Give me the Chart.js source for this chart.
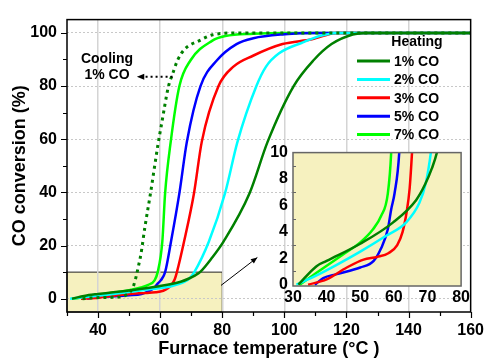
<!DOCTYPE html>
<html>
<head>
<meta charset="utf-8">
<script src="https://cdn.jsdelivr.net/npm/chart.js@4.4.1/dist/chart.umd.min.js"></script>
<style>
body { margin: 0; background: #fff; }
#wrap { position: relative; width: 493px; height: 358px; }
#main { position: absolute; left: 0; top: 0; }
#inset { position: absolute; left: 262px; top: 138px; }
</style>
</head>
<body>
<div id="wrap">
  <canvas id="main" width="493" height="358"></canvas>
  <canvas id="inset" width="210" height="170"></canvas>
</div>
<script>
// [temperature (°C), CO conversion (%)]
const cooling1 = [[35,0],[38,0.3],[44,0.5],[47.3,0.7],[50.4,2.7],[51.5,5.1],[52.3,8.5],[53,12.2],[53.8,16.7],[55.1,27],[56.9,39.7],[59.3,58],[60.5,66],[62.7,80],[64,84.5],[65.6,89.7],[68,94],[72.5,97],[77,99.3],[85,100],[160,100]];
const heat1 = [[31.6,0],[37,1.4],[40,1.8],[50,3.1],[59.7,4.7],[66.6,6.4],[69.3,7.6],[71.3,8.8],[73,10.2],[76.7,15.4],[80.4,21.5],[88.8,39.7],[94.6,59],[103,80],[109.4,89.7],[115.2,95.8],[122,99.4],[126,100],[160,100]];
const heat2 = [[31,0],[37,0.7],[43,1.5],[50,2.5],[57.7,3.7],[63.6,4.7],[67.6,6.2],[69.5,7.7],[71,10],[75.7,21.5],[80.9,39.7],[84.9,59],[91,80],[94.1,87.3],[98.3,92.3],[105.7,96.3],[112,99],[117,100],[160,100]];
const heat3 = [[34.5,0],[40,0.4],[46,1.3],[51,1.9],[55,2.1],[58.5,2.4],[61,3],[62.6,4],[63.8,5.5],[64.7,7.3],[65.4,10],[67.7,21.5],[70.9,39.7],[73.4,59],[78.8,80],[83.6,87.3],[89.9,91.4],[99.4,95.8],[108.9,97.6],[117,100],[160,100]];
const heat5 = [[36.5,0],[39,0.5],[43,0.8],[50,1.3],[54,1.8],[56.2,2.75],[58.2,4.2],[59.2,5.7],[60.2,6.9],[61.6,10],[63.5,21.5],[66.2,39.7],[68.6,59],[73,80],[78.3,89.7],[84.6,95.8],[90,98],[100,99.5],[110,100],[160,100]];
const heat7 = [[32,0],[37,0.9],[45,2.3],[50,3.2],[53.8,4.2],[56.2,5.2],[58.2,6.9],[59.2,10],[60.7,21.5],[61.6,39.7],[63.4,59],[66.2,80],[69.8,89.7],[76.7,97],[81,98.8],[90,99.7],[100,100],[160,100]];

const heatLabels = ['1% CO', '2% CO', '3% CO', '5% CO', '7% CO'];
const heatColors = ['#008000', '#00ffff', '#ff0000', '#0000ff', '#00ff00'];
const heatSeries = [heat1, heat2, heat3, heat5, heat7];
const mainXTicks = [30, 40, 50, 60, 70, 80, 90, 100, 110, 120, 130, 140, 150, 160];
const mainYTicks = [0, 10, 20, 30, 40, 50, 60, 70, 80, 90, 100];
const insetXTicks = [30, 40, 50, 60, 70, 80];
const insetYTicks = [0, 2, 4, 6, 8, 10];

const YELLOW = '#f6f1bf';
const bold = size => ({ family: 'Arial, "Liberation Sans", sans-serif', size: size, weight: 'bold' });
const toXY = arr => arr.map(p => ({ x: p[0], y: p[1] }));

function heatDatasets(width) {
    return heatSeries.map((s, i) => ({
        label: heatLabels[i],
        data: toXY(s),
        borderColor: heatColors[i],
        backgroundColor: heatColors[i],
        borderWidth: width,
        pointRadius: 0,
        cubicInterpolationMode: 'monotone'
    }));
}

function arrowHead(ctx, x1, y1, x2, y2, size) {
    const ang = Math.atan2(y2 - y1, x2 - x1);
    ctx.beginPath();
    ctx.moveTo(x2, y2);
    ctx.lineTo(x2 - size * Math.cos(ang - 0.4), y2 - size * Math.sin(ang - 0.4));
    ctx.lineTo(x2 - size * Math.cos(ang + 0.4), y2 - size * Math.sin(ang + 0.4));
    ctx.closePath();
    ctx.fill();
}

// yellow zoom box under the grid
const zoomBox = {
    id: 'zoomBox',
    beforeDraw(chart) {
        const { ctx, scales: { x, y } } = chart;
        const l = x.getPixelForValue(30), r = x.getPixelForValue(80);
        const t = y.getPixelForValue(10), b = y.getPixelForValue(-5);
        ctx.save();
        ctx.fillStyle = YELLOW;
        ctx.fillRect(l, t, r - l, b - t);
        ctx.strokeStyle = '#222';
        ctx.lineWidth = 1;
        ctx.strokeRect(l, t, r - l, b - t);
        ctx.restore();
    }
};

// frame, tick marks, legend, annotations
const mainDecor = {
    id: 'mainDecor',
    afterDraw(chart) {
        const { ctx, chartArea: a, scales: { x, y } } = chart;
        ctx.save();
        ctx.strokeStyle = '#000';
        ctx.lineWidth = 1.5;
        ctx.strokeRect(a.left, a.top, a.right - a.left, a.bottom - a.top);
        ctx.lineWidth = 1.2;
        ctx.beginPath();
        mainXTicks.forEach(v => {
            const px = Math.round(x.getPixelForValue(v)) + 0.5;
            ctx.moveTo(px, a.bottom);
            ctx.lineTo(px, a.bottom + (v % 20 === 0 ? 6 : 4));
        });
        mainYTicks.forEach(v => {
            const py = Math.round(y.getPixelForValue(v)) + 0.5;
            ctx.moveTo(a.left, py);
            ctx.lineTo(a.left - (v % 20 === 0 ? 6 : 4), py);
        });
        ctx.stroke();

        // legend
        ctx.fillStyle = '#000';
        ctx.font = 'bold 14px Arial, "Liberation Sans", sans-serif';
        ctx.textBaseline = 'middle';
        ctx.textAlign = 'center';
        ctx.fillText('Heating', 417, 42);
        ctx.textAlign = 'left';
        heatLabels.forEach((lab, i) => {
            const yy = 61 + i * 18.4;
            ctx.strokeStyle = heatColors[i];
            ctx.lineWidth = 3;
            ctx.beginPath();
            ctx.moveTo(357, yy);
            ctx.lineTo(390, yy);
            ctx.stroke();
            ctx.fillText(lab, 394, yy + 1);
        });

        // cooling note
        ctx.textAlign = 'center';
        ctx.fillText('Cooling', 107, 59);
        ctx.fillText('1% CO', 107, 75);
        const cx1 = x.getPixelForValue(64), cx2 = x.getPixelForValue(52.5), cy = y.getPixelForValue(83.5);
        ctx.strokeStyle = '#000';
        ctx.lineWidth = 2;
        ctx.setLineDash([2, 3]);
        ctx.beginPath();
        ctx.moveTo(cx1, cy);
        ctx.lineTo(cx2 + 4, cy);
        ctx.stroke();
        ctx.setLineDash([]);
        ctx.fillStyle = '#000';
        arrowHead(ctx, cx1, cy, cx2, cy, 8);

        // arrow to inset
        const ax1 = x.getPixelForValue(79.6), ay1 = y.getPixelForValue(5);
        const ax2 = x.getPixelForValue(91.3), ay2 = y.getPixelForValue(15.5);
        ctx.lineWidth = 1;
        ctx.beginPath();
        ctx.moveTo(ax1, ay1);
        ctx.lineTo(ax2, ay2);
        ctx.stroke();
        arrowHead(ctx, ax1, ay1, ax2, ay2, 7);
        ctx.restore();
    }
};

const mainDatasets = [{
    label: 'Cooling 1% CO',
    data: toXY(cooling1),
    borderColor: '#008000',
    borderWidth: 3,
    borderDash: [3, 4],
    pointRadius: 0,
    cubicInterpolationMode: 'monotone'
}].concat(heatDatasets(2.5));

new Chart(document.getElementById('main'), {
    type: 'line',
    data: { datasets: mainDatasets },
    options: {
        responsive: false,
        animation: false,
        devicePixelRatio: 1,
        layout: { padding: { top: 12, right: 15, left: 0, bottom: 0 } },
        plugins: { legend: { display: false }, tooltip: { enabled: false } },
        scales: {
            x: {
                type: 'linear',
                min: 30,
                max: 160,
                afterBuildTicks: s => { s.ticks = mainXTicks.map(v => ({ value: v })); },
                afterFit: s => { s.height = 46; },
                grid: {
                    drawTicks: false,
                    color: c => (c.tick && c.tick.value % 20 === 0 && c.tick.value > 30 && c.tick.value < 160) ? '#d4d4d4' : 'rgba(0,0,0,0)',
                    lineWidth: 1.5
                },
                border: { display: false },
                ticks: {
                    autoSkip: false,
                    maxRotation: 0,
                    padding: 9,
                    color: '#000',
                    font: bold(16),
                    callback: v => (v % 20 === 0 && v > 30) ? v : ''
                },
                title: {
                    display: true,
                    text: 'Furnace temperature (°C )',
                    color: '#000',
                    font: Object.assign(bold(18), { lineHeight: 1 }),
                    padding: { top: 0, bottom: 0 }
                }
            },
            y: {
                min: -5,
                max: 105,
                afterBuildTicks: s => { s.ticks = mainYTicks.map(v => ({ value: v })); },
                afterFit: s => { s.width = 67; },
                grid: {
                    drawTicks: false,
                    color: c => (c.tick && c.tick.value % 20 === 0) ? '#c8c8c8' : 'rgba(0,0,0,0)',
                    lineWidth: 1
                },
                border: { display: false, dash: [2, 2] },
                ticks: {
                    autoSkip: false,
                    padding: 10,
                    color: '#000',
                    font: bold(16),
                    callback: v => (v % 20 === 0) ? v : ''
                },
                title: {
                    display: true,
                    text: 'CO conversion (%)',
                    color: '#000',
                    font: Object.assign(bold(18), { lineHeight: 1 }),
                    padding: { top: 11, bottom: 0 }
                }
            }
        }
    },
    plugins: [zoomBox, mainDecor]
});

const insetDecor = {
    id: 'insetDecor',
    beforeDraw(chart) {
        const { ctx, chartArea: a } = chart;
        ctx.save();
        ctx.fillStyle = YELLOW;
        ctx.fillRect(a.left, a.top, a.right - a.left, a.bottom - a.top);
        ctx.restore();
    },
    afterDraw(chart) {
        const { ctx, chartArea: a, scales: { y } } = chart;
        ctx.save();
        ctx.strokeStyle = '#666';
        ctx.lineWidth = 1.5;
        ctx.strokeRect(a.left, a.top, a.right - a.left, a.bottom - a.top);
        ctx.lineWidth = 1;
        ctx.beginPath();
        for (let v = 1; v < 10; v += 2) {
            const py = Math.round(y.getPixelForValue(v)) + 0.5;
            ctx.moveTo(a.left, py);
            ctx.lineTo(a.left + 3, py);
        }
        ctx.stroke();
        ctx.restore();
    }
};

new Chart(document.getElementById('inset'), {
    type: 'line',
    data: { datasets: heatDatasets(2.5) },
    options: {
        responsive: false,
        animation: false,
        devicePixelRatio: 1,
        layout: { padding: { top: 10, right: 10, left: 0, bottom: 0 } },
        plugins: { legend: { display: false }, tooltip: { enabled: false } },
        scales: {
            x: {
                type: 'linear',
                min: 30,
                max: 80,
                afterBuildTicks: s => { s.ticks = insetXTicks.map(v => ({ value: v })); },
                afterFit: s => { s.height = 22; },
                grid: { display: false, drawTicks: false },
                border: { display: false },
                ticks: { autoSkip: false, maxRotation: 0, padding: 2, color: '#000', font: bold(16) }
            },
            y: {
                min: -0.1,
                max: 10,
                afterBuildTicks: s => { s.ticks = insetYTicks.map(v => ({ value: v })); },
                afterFit: s => { s.width = 31; },
                grid: { display: false, drawTicks: false },
                border: { display: false },
                ticks: { autoSkip: false, padding: 5, color: '#000', font: bold(16) }
            }
        }
    },
    plugins: [insetDecor]
});
</script>
</body>
</html>
